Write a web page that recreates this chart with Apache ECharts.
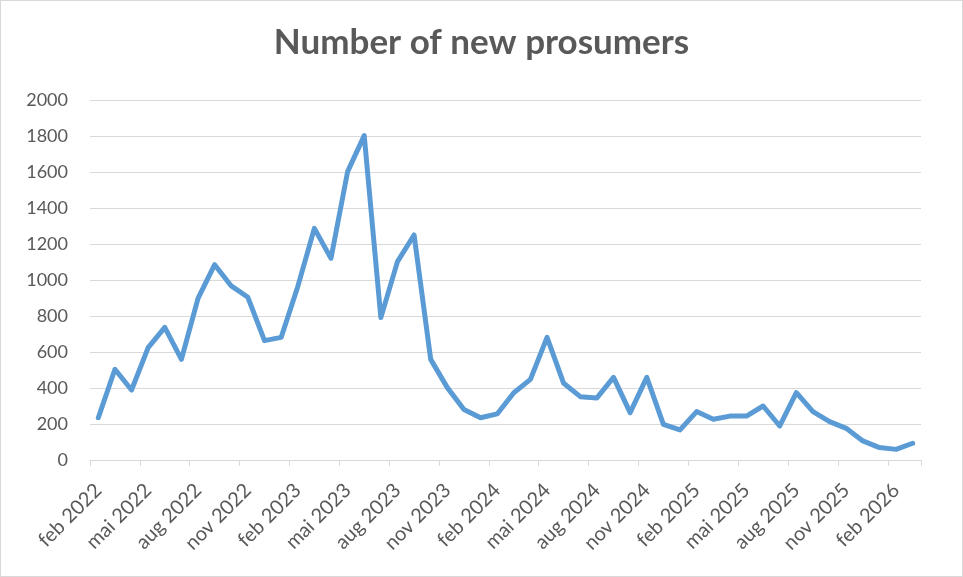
<!DOCTYPE html>
<html>
<head>
<meta charset="utf-8">
<script src="https://cdn.jsdelivr.net/npm/echarts@6/dist/echarts.min.js"></script>
<style>
  html, body { margin: 0; padding: 0; background: #fff; }
  #chart { width: 963px; height: 577px; box-sizing: border-box; border: 1px solid #d9d9d9; }
</style>
</head>
<body>
<div id="chart"></div>
<script>
// måneder fra feb 2022 til mar 2026
const months = ['jan', 'feb', 'mar', 'apr', 'mai', 'jun', 'jul', 'aug', 'sep', 'okt', 'nov', 'des'];
const categories = [];
for (let i = 0; i < 50; i++) {
  const m = (1 + i) % 12;
  const y = 2022 + Math.floor((1 + i) / 12);
  categories.push(months[m] + ' ' + y);
}

// antall nye plusskunder per måned
const prosumers = [
  235, 504, 389, 624, 737, 559, 898, 1085, 967, 904,
  663, 681, 963, 1287, 1120, 1602, 1802, 791, 1102, 1250,
  559, 402, 281, 235, 256, 374, 448, 681, 426, 352,
  345, 459, 263, 459, 198, 167, 269, 226, 244, 244,
  300, 189, 374, 269, 213, 176, 106, 69, 59, 93
];

const yTicks = [0, 200, 400, 600, 800, 1000, 1200, 1400, 1600, 1800, 2000];

const chart = echarts.init(document.getElementById('chart'));

const option = {
  animation: false,
  title: {
    text: 'Number of new prosumers',
    left: 'center',
    top: 19,
    textStyle: {
      color: '#595959',
      fontSize: 35,
      fontWeight: 'bold',
      fontFamily: 'Lato'
    }
  },
  grid: {
    left: 89,
    right: 41,
    top: 99,
    bottom: 116
  },
  xAxis: {
    type: 'category',
    data: categories,
    boundaryGap: true,
    axisLine: { lineStyle: { color: '#d9d9d9', width: 1 } },
    axisTick: {
      show: true,
      interval: 2,
      length: 6,
      lineStyle: { color: '#d9d9d9' }
    },
    axisLabel: {
      interval: 2,
      rotate: 45,
      color: '#595959',
      fontSize: 20,
      fontFamily: 'Lato',
      margin: 27
    },
    splitLine: { show: false }
  },
  yAxis: {
    type: 'value',
    min: yTicks[0],
    max: yTicks[yTicks.length - 1],
    interval: 200,
    axisLine: { show: false },
    axisTick: { show: false },
    axisLabel: {
      color: '#595959',
      fontSize: 18,
      fontFamily: 'Lato',
      margin: 22,
      formatter: v => String(v)
    },
    splitLine: { lineStyle: { color: '#d9d9d9', width: 1 } }
  },
  series: [{
    type: 'line',
    data: prosumers,
    symbol: 'none',
    lineStyle: { color: '#5b9bd5', width: 5, join: 'round', cap: 'round' }
  }]
};

chart.setOption(option);
</script>
</body>
</html>
